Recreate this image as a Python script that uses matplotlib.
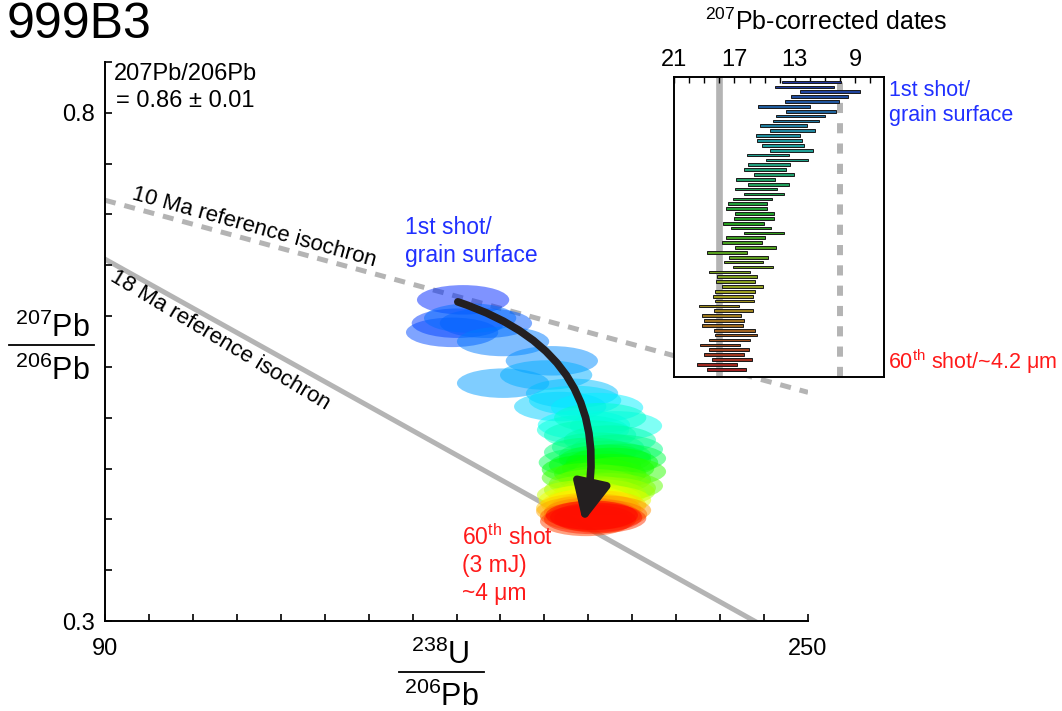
import colorsys
import numpy as np
import matplotlib
matplotlib.use("Agg")
import matplotlib.pyplot as plt
from matplotlib.patches import Ellipse, FancyArrowPatch
from matplotlib.lines import Line2D

plt.rcParams['font.family'] = ['Liberation Sans', 'DejaVu Sans']
plt.rcParams['mathtext.fontset'] = 'custom'
plt.rcParams['mathtext.rm'] = 'Liberation Sans'
plt.rcParams['mathtext.it'] = 'Liberation Sans:italic'
plt.rcParams['mathtext.bf'] = 'Liberation Sans:bold'

# ---------------- data ----------------
# Tera-Wasserburg ellipse centres (238U/206Pb, 207Pb/206Pb), shot 1 -> 60
ell_x = [171.5, 170.3, 169.0, 176.7, 173.1, 180.6, 191.7, 180.6, 190.4, 196.3,
         193.6, 197.0, 202.0, 199.0, 206.3, 198.8, 202.7, 200.4, 204.9, 202.2,
         206.5, 200.4, 203.8, 199.2, 207.2, 203.8, 201.5, 205.4, 199.9, 204.5,
         202.7, 207.2, 199.9, 203.8, 206.5, 201.5, 204.9, 200.4, 204.7, 202.7,
         198.8, 201.5, 203.8, 199.2, 200.8, 199.7, 202.7, 198.6, 201.5, 198.6,
         203.8, 200.4, 202.9, 199.5, 201.5, 199.5, 202.7, 200.4, 201.8, 200.8]
ell_y = [0.616, 0.593, 0.584, 0.593, 0.598, 0.575, 0.556, 0.534, 0.542, 0.524,
         0.511, 0.517, 0.510, 0.493, 0.492, 0.488, 0.500, 0.483, 0.478, 0.471,
         0.469, 0.466, 0.463, 0.456, 0.460, 0.459, 0.4535, 0.456, 0.449, 0.450,
         0.445, 0.447, 0.441, 0.439, 0.433, 0.435, 0.431, 0.429, 0.427, 0.425,
         0.424, 0.421, 0.419, 0.419, 0.416, 0.415, 0.414, 0.411, 0.411, 0.408,
         0.409, 0.407, 0.405, 0.403, 0.404, 0.398, 0.401, 0.400, 0.402, 0.404]
ell_w = 21.0     # 2-sigma width in 238U/206Pb units
ell_h = 0.029    # 2-sigma height in 207Pb/206Pb units

# reference isochrons (endpoints in data units)
iso10_x = [90, 250]
iso10_y = [0.714, 0.525]
iso18_x = [90, 250]
iso18_y = [0.656, 0.2706]

# arrow start / end
arrow_start = (170.3, 0.614)
arrow_end = (198.8, 0.397)

# 207Pb-corrected dates (Ma), older and younger ends of each bar, shot 1 -> 60
date_old = [13.87, 14.31, 12.67, 13.27, 13.67, 15.44, 13.60, 14.24, 14.44, 15.31,
            14.62, 15.60, 15.49, 15.18, 14.62, 16.18, 14.89, 16.07, 16.36, 15.73,
            16.91, 16.11, 16.96, 16.38, 17.09, 17.44, 17.53, 16.96, 17.00, 17.73,
            17.24, 16.36, 17.53, 17.82, 16.93, 18.84, 17.33, 17.67, 17.11, 18.67,
            18.13, 18.24, 17.80, 18.29, 18.44, 18.29, 19.33, 18.36, 19.13, 19.02,
            19.13, 18.38, 18.27, 18.67, 19.29, 18.67, 19.00, 18.47, 19.47, 18.80]
date_young = [9.93, 10.38, 8.67, 9.49, 10.09, 12.02, 10.31, 11.02, 11.38, 12.20,
              11.64, 12.69, 12.56, 12.42, 11.78, 13.42, 12.16, 13.33, 13.56, 13.07,
              14.29, 13.40, 14.16, 13.69, 14.49, 14.87, 14.82, 14.36, 14.36, 15.02,
              14.60, 13.69, 14.98, 15.16, 14.22, 16.16, 14.76, 15.09, 14.42, 15.98,
              15.49, 15.67, 15.11, 15.67, 15.78, 15.69, 16.69, 15.76, 16.58, 16.36,
              16.44, 15.62, 15.51, 16.00, 16.62, 16.02, 16.36, 15.87, 16.82, 16.22]
shots = list(range(1, 61))
ref_ages = [18, 10]
inset_ticks = [21, 17, 13, 9]

n = len(shots)
hues = np.linspace(0.64, 0.0, n)
ell_colors = [colorsys.hsv_to_rgb(h, 1.0, 1.0) for h in hues]
bar_colors = [colorsys.hsv_to_rgb(h, 0.8, 0.62) for h in hues]

W, H = 1062, 711
fig = plt.figure(figsize=(W / 100, H / 100), dpi=100)


def fx(px):
    return px / W


def fy(py):
    return 1 - py / H


# ---------------- main axes ----------------
ax = fig.add_axes([fx(105), fy(621), fx(808) - fx(105), fy(62) - fy(621)])
ax.set_xlim(90, 250)
ax.set_ylim(0.3, 0.85)
for s in ['top', 'right']:
    ax.spines[s].set_visible(False)
for s in ['left', 'bottom']:
    ax.spines[s].set_linewidth(1.4)
xt = list(range(90, 251, 10))
ax.set_xticks(xt)
ax.set_xticklabels(['90'] + [''] * (len(xt) - 2) + ['250'])
yt = [0.30, 0.35, 0.40, 0.45, 0.50, 0.55, 0.60, 0.65, 0.70, 0.75, 0.80, 0.85]
ax.set_yticks(yt)
ylabels = [''] * len(yt)
ylabels[0] = '0.3'
ylabels[10] = '0.8'
ax.set_yticklabels(ylabels)
ax.tick_params(direction='in', length=5, width=1.2, labelsize=17)
ax.tick_params(axis='x', pad=12)
ax.tick_params(axis='y', pad=7)

grey = '#b4b4b4'
ax.plot(iso10_x, iso10_y, color=grey, lw=3.6, ls=(0, (2.2, 1.8)), zorder=1,
        solid_capstyle='butt', dash_capstyle='butt')
ax.plot(iso18_x, iso18_y, color=grey, lw=3.6, zorder=1)

for i in range(n):
    e = Ellipse((ell_x[i], ell_y[i]), ell_w, ell_h, facecolor=ell_colors[i],
                edgecolor='none', alpha=0.5, zorder=2 + i * 0.01)
    ax.add_patch(e)

arr = FancyArrowPatch(arrow_start, arrow_end, connectionstyle='arc3,rad=-0.45',
                      arrowstyle='-|>,head_length=1.15,head_width=0.55',
                      mutation_scale=20, lw=5.5, color='#231f20',
                      shrinkA=0, shrinkB=0, zorder=5)
ax.add_patch(arr)

# isochron labels
fig.text(fx(131), fy(199), '10 Ma reference isochron', fontsize=16,
         rotation=-15.5, rotation_mode='anchor', ha='left', va='baseline')
fig.text(fx(117), fy(266), '18 Ma reference isochron', fontsize=16,
         rotation=-31, rotation_mode='anchor', ha='left', va='top')

# annotations
fig.text(fx(185), fy(63), '207Pb/206Pb\n= 0.86 ± 0.01', fontsize=17,
         ha='center', va='top', multialignment='center', linespacing=1.3)
fig.text(fx(405), fy(216), '1st shot/\ngrain surface', fontsize=16.5,
         color='#2030ff', ha='left', va='top', linespacing=1.25)
fig.text(fx(462), fy(524), '60$\\mathregular{^{th}}$ shot\n(3 mJ)\n~4 μm',
         fontsize=16.5, color='#ff1a1a', ha='left', va='top', linespacing=1.25)

# title
fig.text(fx(7), fy(38), '999B3', fontsize=36, ha='left', va='baseline')

# y label as fraction
fig.text(fx(52), fy(337), '$\\mathregular{^{207}}$Pb', fontsize=22,
         ha='center', va='baseline')
fig.add_artist(Line2D([fx(9), fx(94)], [fy(345), fy(345)], color='black', lw=1.3))
fig.text(fx(52), fy(380), '$\\mathregular{^{206}}$Pb', fontsize=22,
         ha='center', va='baseline')

# x label as fraction
fig.text(fx(440), fy(664), '$\\mathregular{^{238}}$U', fontsize=22,
         ha='center', va='baseline')
fig.add_artist(Line2D([fx(399), fx(484)], [fy(672), fy(672)], color='black', lw=1.3))
fig.text(fx(441), fy(706), '$\\mathregular{^{206}}$Pb', fontsize=22,
         ha='center', va='baseline')

# ---------------- inset ----------------
ins = fig.add_axes([fx(674), fy(377), fx(884) - fx(674), fy(77) - fy(377)])
ins.set_facecolor('white')
ins.set_zorder(10)
ins.set_xlim(21, 7.1)
ins.set_ylim(61.6, -0.03)
for s in ins.spines.values():
    s.set_linewidth(1.4)
ins.axvline(ref_ages[0], color=grey, lw=4.8, zorder=1)
ins.axvline(ref_ages[1], color=grey, lw=4.3, ls=(0, (1.7, 1.7)), zorder=1)
ins.barh(shots, [o - y for o, y in zip(date_old, date_young)], left=date_young,
         height=0.55, color=bar_colors, edgecolor='#1a1a1a', linewidth=0.7,
         zorder=3)
ins.xaxis.tick_top()
ins.set_xticks(inset_ticks)
ins.set_xticks(list(range(8, 22)), minor=True)
ins.set_yticks([])
ins.tick_params(axis='x', which='both', direction='in', length=4, width=1.0,
                labelsize=17, pad=4, top=True, bottom=False)

fig.text(fx(826), fy(30), '$\\mathregular{^{207}}$Pb-corrected dates',
         fontsize=18, ha='center', va='baseline')
fig.text(fx(889), fy(80), '1st shot/\ngrain surface', fontsize=15.5,
         color='#2030ff', ha='left', va='top', linespacing=1.25)
fig.text(fx(888), fy(369), '60$\\mathregular{^{th}}$ shot/~4.2 μm', fontsize=15.5,
         color='#ff1a1a', ha='left', va='baseline')

fig.savefig('out.png', dpi=100)
